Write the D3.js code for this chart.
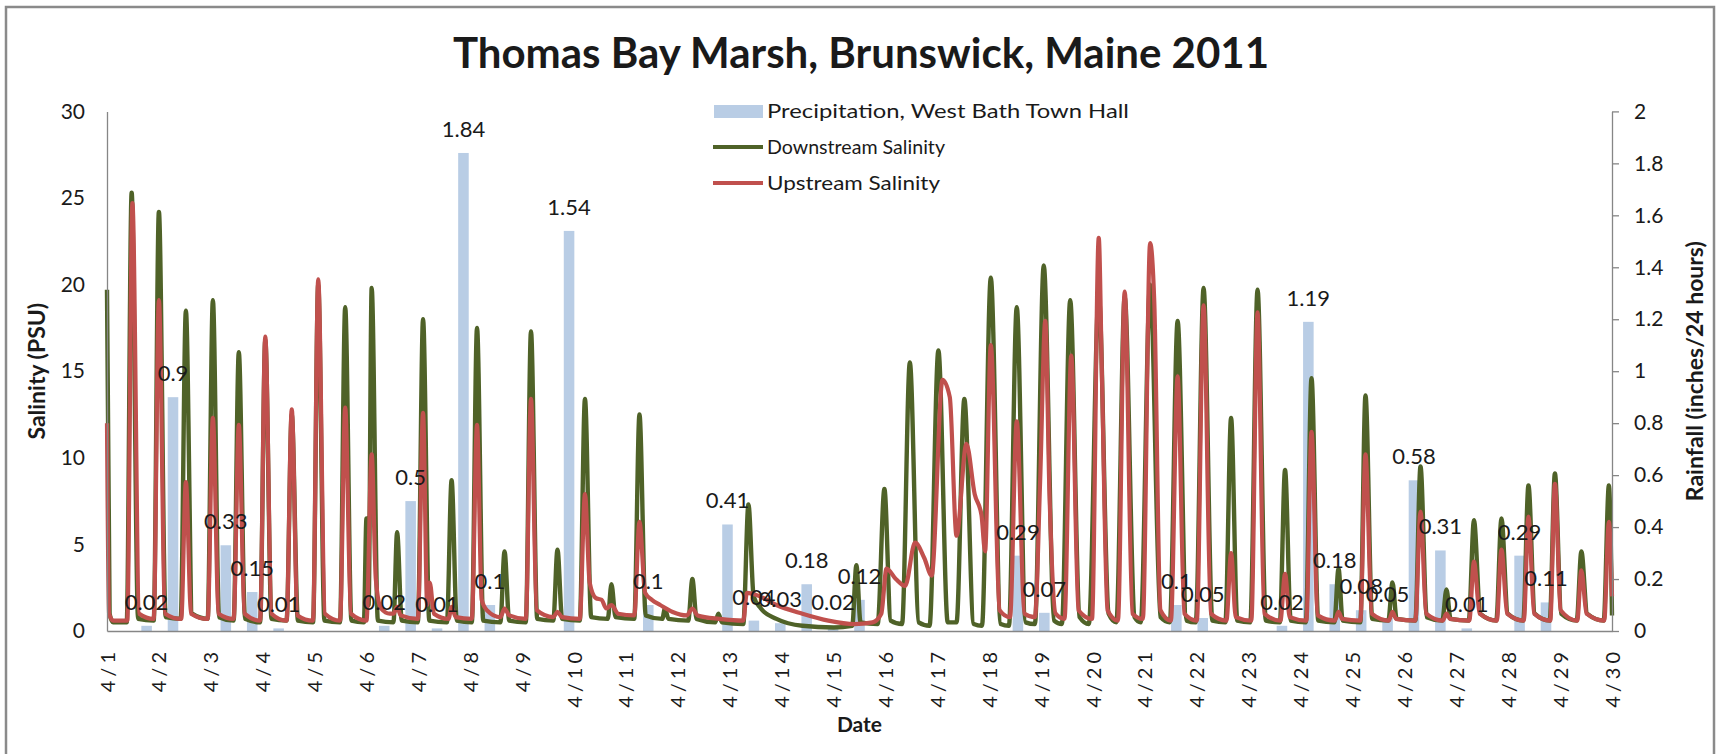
<!DOCTYPE html>
<html>
<meta charset="utf-8">
<head>
<style>
body { margin: 0; background: #fff; }
text { font-family: Lato, "Open Sans", sans-serif; fill: #1a1a1a; }
.axis path, .axis line { stroke: #868686; stroke-width: 1.3; }
.axis text { font-size: 21px; }
</style>
<script src="https://d3js.org/d3.v7.min.js"></script>
</head>
<body>
<svg width="1719" height="754"></svg>
<script>
// rain per half-day slot (57 slots across the month), blank = no reading
var precip = [null, 0.02, 0.9, null, 0.33, 0.15, 0.01, null, null, null,
  0.02, 0.5, 0.01, 1.84, 0.1, null, null, 1.54, null, null,
  0.1, null, null, 0.41, 0.04, 0.03, 0.18, 0.02, 0.12, null,
  null, null, null, null, 0.29, 0.07, null, null, null, null,
  0.1, 0.05, null, null, 0.02, 1.19, 0.18, 0.08, 0.05, 0.58,
  0.31, 0.01, null, 0.29, 0.11, null, null];

// [days since 4/1 00:00, salinity PSU]
var downstream = [
  [0.00,19.7],[0.05,1.0],[0.12,0.5],
  [0.38,0.5],[0.475,25.3],[0.60,0.7],
  [0.90,0.6],[1.00,24.2],[1.13,0.8],
  [1.42,0.7],[1.52,18.5],[1.64,1.0],
  [1.94,0.7],[2.04,19.1],[2.16,0.8],
  [2.44,0.6],[2.54,16.1],[2.66,0.7],
  [2.95,0.5],[3.05,16.8],[3.17,0.7],
  [3.46,0.6],[3.56,12.5],[3.68,0.6],
  [3.97,0.5],[4.07,20.0],[4.19,0.6],
  [4.49,0.5],[4.59,18.7],[4.71,0.6],
  [4.95,0.5],[5.00,6.5],[5.04,1.5],[5.10,19.8],[5.22,0.6],
  [5.52,0.5],[5.59,5.7],[5.68,0.6],
  [5.99,0.5],[6.09,18.0],[6.21,0.6],
  [6.55,0.5],[6.64,8.7],[6.74,0.6],
  [7.03,0.5],[7.13,17.5],[7.25,0.6],
  [7.58,0.5],[7.66,4.6],[7.75,0.6],
  [8.07,0.5],[8.17,17.3],[8.29,0.7],
  [8.60,0.6],[8.68,4.7],[8.77,0.7],
  [9.11,0.6],[9.21,13.4],[9.33,0.8],
  [9.65,0.7],[9.72,2.7],[9.80,0.8],
  [10.16,0.7],[10.26,12.5],[10.38,0.9],
  [10.70,0.7],[10.75,1.3],[10.82,0.7],
  [11.20,0.6],[11.28,3.0],[11.36,0.7],
  [11.72,0.5],[11.78,1.0],[11.85,0.5],
  [12.26,0.4],[12.36,7.3],[12.46,2.0],[12.60,1.3],[12.90,0.7],[13.40,0.3],[14.00,0.2],
  [14.36,0.3],[14.44,3.8],[14.52,0.5],
  [14.85,0.4],[14.98,8.2],[15.10,0.6],
  [15.32,0.4],[15.47,15.5],[15.64,0.5],
  [15.85,0.3],[16.02,16.2],[16.20,0.5],
  [16.37,0.5],[16.52,13.4],[16.70,0.4],
  [16.86,0.3],[17.03,20.4],[17.22,0.4],
  [17.38,0.3],[17.53,18.7],[17.70,0.5],
  [17.88,0.4],[18.05,21.1],[18.25,0.6],
  [18.40,0.4],[18.56,19.1],[18.74,0.8],
  [18.92,0.4],[19.11,19.4],[19.30,1.0],
  [19.45,0.5],[19.61,19.3],[19.80,0.8],
  [19.92,0.5],[20.10,20.0],[20.30,0.8],
  [20.48,0.5],[20.63,17.9],[20.80,0.6],
  [20.98,0.5],[21.13,19.8],[21.30,0.6],
  [21.55,0.5],[21.66,12.3],[21.78,0.6],
  [22.03,0.5],[22.17,19.7],[22.33,0.6],
  [22.60,0.5],[22.70,9.3],[22.81,0.6],
  [23.10,0.5],[23.21,14.6],[23.34,0.6],
  [23.65,0.5],[23.73,3.6],[23.81,0.6],
  [24.15,0.5],[24.25,13.6],[24.38,0.7],
  [24.69,0.6],[24.77,2.8],[24.85,0.7],
  [25.21,0.6],[25.31,9.5],[25.43,0.8],
  [25.73,0.6],[25.81,2.4],[25.89,0.7],
  [26.24,0.6],[26.34,6.4],[26.46,1.0],
  [26.77,0.6],[26.87,6.5],[26.99,1.0],
  [27.29,0.6],[27.39,8.4],[27.51,1.0],
  [27.80,0.6],[27.90,9.1],[28.02,1.0],
  [28.32,0.6],[28.41,4.6],[28.52,1.0],
  [28.84,0.6],[28.94,8.4],[29.00,0.9]
];

var upstream = [
  [0.00,12.0],[0.04,1.0],[0.12,0.6],
  [0.39,0.6],[0.49,24.7],[0.62,1.0],
  [0.90,0.7],[1.00,19.1],[1.12,1.0],
  [1.43,0.7],[1.52,8.6],[1.62,1.0],
  [1.94,0.7],[2.04,12.3],[2.15,1.0],
  [2.44,0.7],[2.54,11.9],[2.65,1.0],
  [2.95,0.6],[3.05,17.0],[3.17,1.0],
  [3.46,0.6],[3.56,12.8],[3.67,0.9],
  [3.97,0.6],[4.07,20.3],[4.20,1.0],
  [4.49,0.6],[4.59,12.9],[4.70,1.0],
  [5.00,0.6],[5.10,10.2],[5.18,3.0],[5.28,1.3],[5.45,1.0],
  [5.52,1.0],[5.59,1.4],[5.66,0.9],
  [5.99,0.7],[6.09,12.6],[6.17,1.5],[6.22,2.8],[6.30,1.0],
  [6.58,0.7],[6.64,1.4],[6.72,0.8],
  [7.03,0.7],[7.13,11.9],[7.22,1.8],[7.32,1.2],
  [7.58,0.8],[7.66,1.3],[7.75,0.9],
  [8.07,0.7],[8.17,13.4],[8.28,1.2],
  [8.60,0.8],[8.68,1.1],[8.77,0.8],
  [9.11,0.7],[9.21,7.9],[9.30,2.8],[9.42,1.9],[9.53,1.8],[9.62,1.3],[9.72,1.5],[9.85,1.0],
  [10.16,0.9],[10.26,6.3],[10.37,2.2],[10.50,1.8],[10.66,1.5],[10.90,1.1],[11.17,0.9],
  [11.28,1.3],[11.38,0.9],[11.80,0.7],
  [12.26,0.6],[12.33,2.2],[12.58,2.0],[12.90,1.5],[13.40,1.0],[13.90,0.6],[14.40,0.4],[14.75,0.5],
  [14.92,1.0],[15.02,3.6],[15.20,3.0],[15.38,2.6],[15.57,5.1],[15.75,4.2],[15.89,3.2],
  [16.10,14.5],[16.24,13.5],[16.37,5.5],[16.56,10.8],[16.72,7.9],[16.85,6.7],[16.92,4.6],
  [17.03,16.5],[17.20,1.2],
  [17.40,0.8],[17.53,12.1],[17.68,1.0],
  [17.88,0.8],[17.98,8.6],[18.08,17.9],[18.16,8.0],[18.28,1.0],
  [18.45,0.7],[18.58,15.9],[18.72,1.2],
  [18.98,0.7],[19.11,22.7],[19.17,15.0],[19.28,1.2],
  [19.48,0.6],[19.61,19.6],[19.76,1.0],
  [19.96,0.7],[20.10,22.4],[20.18,19.0],[20.30,1.2],
  [20.50,0.6],[20.63,14.7],[20.76,1.0],
  [21.00,0.6],[21.13,18.8],[21.27,1.0],
  [21.57,0.6],[21.66,4.5],[21.75,0.8],
  [22.05,0.6],[22.17,18.4],[22.30,1.0],
  [22.61,0.6],[22.70,3.3],[22.79,0.8],
  [23.11,0.6],[23.21,11.5],[23.33,0.9],
  [23.66,0.6],[23.73,1.1],[23.80,0.7],
  [24.15,0.6],[24.25,10.2],[24.37,1.0],
  [24.70,0.6],[24.77,1.1],[24.84,0.7],
  [25.21,0.6],[25.31,6.9],[25.42,1.0],
  [25.74,0.6],[25.81,1.0],[25.88,0.7],
  [26.25,0.6],[26.34,4.0],[26.45,1.0],
  [26.78,0.6],[26.87,4.7],[26.98,1.0],
  [27.30,0.6],[27.39,6.6],[27.50,1.0],
  [27.81,0.6],[27.90,8.5],[28.01,1.2],
  [28.33,0.6],[28.41,3.5],[28.51,1.0],
  [28.85,0.6],[28.94,6.3],[29.00,2.0]
];

var legendNames = ["Precipitation, West Bath Town Hall", "Downstream Salinity", "Upstream Salinity"];
var legendWidths = [362, 178, 173];

var svg = d3.select("svg");
var plotL = 107, plotR = 1612, plotT = 111.4, plotB = 631;
var start = Date.UTC(2011, 3, 1);
function toDate(d) { return new Date(start + d * 864e5); }

var x = d3.scaleUtc()
    .domain([new Date(start), new Date(Date.UTC(2011, 3, 30))])
    .range([plotL, plotR]);
var xBand = d3.scaleBand()
    .domain(d3.range(precip.length))
    .range([plotL, plotR])
    .paddingInner(0.6)
    .paddingOuter(0.3);
var ySal = d3.scaleLinear().domain([0, 30]).range([plotB, plotT]);
var yRain = d3.scaleLinear().domain([0, 2]).range([plotB, plotT]);

// chart border
svg.append("rect")
    .attr("x", 6).attr("y", 7).attr("width", 1708).attr("height", 800)
    .attr("fill", "none").attr("stroke", "#8a8a8a").attr("stroke-width", 2.5);

var bars = precip.map(function(v, i) { return {i: i, v: v}; })
    .filter(function(d) { return d.v != null; });

svg.selectAll(".bar")
  .data(bars)
  .enter().append("rect")
    .attr("class", "bar")
    .attr("x", function(d) { return xBand(d.i); })
    .attr("width", xBand.bandwidth())
    .attr("y", function(d) { return yRain(d.v); })
    .attr("height", function(d) { return plotB - yRain(d.v); })
    .attr("fill", "#b9cde5");

var line = d3.line()
    .x(function(d) { return x(toDate(d[0])); })
    .y(function(d) { return ySal(d[1]); })
    .curve(d3.curveMonotoneX);

svg.append("path")
    .datum(downstream)
    .attr("d", line)
    .attr("fill", "none")
    .attr("stroke", "#4f6228")
    .attr("stroke-width", 4.4)
    .attr("stroke-linejoin", "round");

svg.append("path")
    .datum(upstream)
    .attr("d", line)
    .attr("fill", "none")
    .attr("stroke", "#c0504d")
    .attr("stroke-width", 4.2)
    .attr("stroke-linejoin", "round");

// axes
svg.append("g")
    .attr("class", "axis")
    .attr("transform", "translate(" + plotL + ",0)")
    .call(d3.axisLeft(ySal).ticks(6).tickSize(0).tickPadding(22));

svg.append("g")
    .attr("class", "axis")
    .attr("transform", "translate(" + plotR + ",0)")
    .call(d3.axisRight(yRain).ticks(10).tickFormat(d3.format("~g")).tickSizeInner(7).tickSizeOuter(0).tickPadding(15));

var xAxis = svg.append("g")
    .attr("class", "axis")
    .attr("transform", "translate(0," + plotB + ")")
    .call(d3.axisBottom(x).ticks(d3.utcDay.every(1)).tickFormat(d3.utcFormat("%-m/%-d")).tickSize(0));

xAxis.selectAll("text")
    .attr("transform", "rotate(-90)")
    .attr("x", -17)
    .attr("y", 0)
    .attr("dy", "0.35em")
    .attr("text-anchor", "end")
    .style("font-size", "20px")
    .style("letter-spacing", "4px");

svg.selectAll(".tick text").attr("fill", "#1a1a1a");

// bar data labels
svg.selectAll(".blabel")
  .data(bars)
  .enter().append("text")
    .attr("class", "blabel")
    .attr("x", function(d) { return xBand(d.i) + xBand.bandwidth() / 2; })
    .attr("y", function(d) { return yRain(d.v) - 16; })
    .attr("text-anchor", "middle")
    .style("font-size", "22px")
    .text(function(d) { return d.v; });

// legend
var lg = svg.append("g").attr("transform", "translate(713,0)");
lg.append("rect").attr("x", 1).attr("y", 105).attr("width", 49).attr("height", 13).attr("fill", "#b9cde5");
lg.append("line").attr("x1", 0).attr("x2", 50).attr("y1", 147).attr("y2", 147)
    .attr("stroke", "#4f6228").attr("stroke-width", 4);
lg.append("line").attr("x1", 0).attr("x2", 50).attr("y1", 183).attr("y2", 183)
    .attr("stroke", "#c0504d").attr("stroke-width", 4);
lg.selectAll(".ltext")
  .data(legendNames)
  .enter().append("text")
    .attr("x", 54)
    .attr("y", function(d, i) { return 111 + i * 36; })
    .attr("dy", "0.35em")
    .attr("textLength", function(d, i) { return legendWidths[i]; })
    .attr("lengthAdjust", "spacingAndGlyphs")
    .style("font-size", "20px")
    .text(function(d) { return d; });

// titles
svg.append("text")
    .attr("x", 861).attr("y", 68)
    .attr("text-anchor", "middle")
    .style("font-size", "42px").style("font-weight", "bold")
    .text("Thomas Bay Marsh, Brunswick, Maine 2011");

svg.append("text")
    .attr("transform", "translate(45," + (plotT + plotB) / 2 + ") rotate(-90)")
    .attr("text-anchor", "middle")
    .style("font-size", "23px").style("font-weight", "bold")
    .text("Salinity (PSU)");

svg.append("text")
    .attr("transform", "translate(1703," + (plotT + plotB) / 2 + ") rotate(-90)")
    .attr("text-anchor", "middle")
    .style("font-size", "23px").style("font-weight", "bold")
    .text("Rainfall (inches/24 hours)");

svg.append("text")
    .attr("x", (plotL + plotR) / 2).attr("y", 732)
    .attr("text-anchor", "middle")
    .style("font-size", "21px").style("font-weight", "bold")
    .text("Date");
</script>
</body>
</html>
